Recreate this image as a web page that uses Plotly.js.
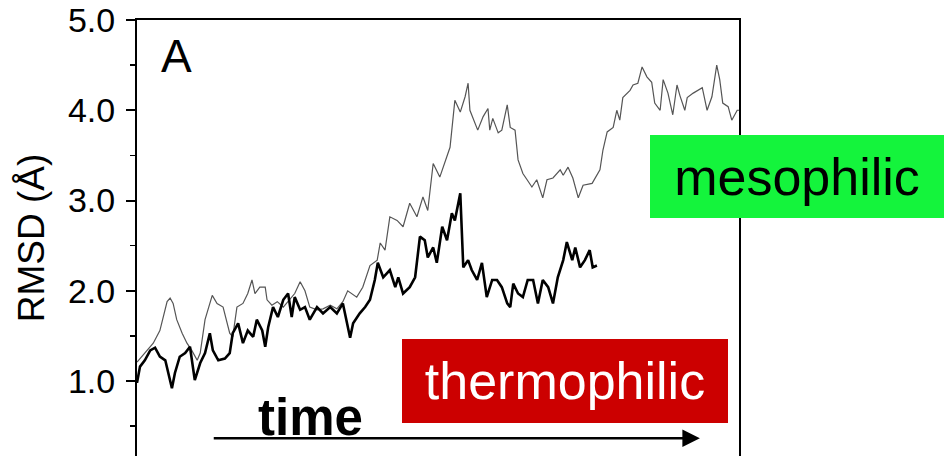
<!DOCTYPE html>
<html>
<head>
<meta charset="utf-8">
<script src="https://cdn.plot.ly/plotly-3.0.1.min.js"></script>
<style>html,body{margin:0;padding:0;background:#fff;}#chart{width:944px;height:456px;}</style>
</head>
<body>
<div id="chart"></div>
<script>
// time (arbitrary units, 0-100) and RMSD (Å)
var mesoTime = [0,1.3,2.7,3.8,5.0,5.5,6.0,6.6,7.5,8.3,9.1,10.0,10.5,11.3,12.5,13.3,14.3,15.4,15.9,16.6,17.6,18.4,19.1,19.6,20.4,21.3,21.6,22.4,23.3,24.3,25.4,26.2,27.1,27.9,28.7,29.9,30.9,32.1,33.2,34.2,35.0,36.5,37.5,38.7,39.9,40.4,41.2,42.0,43.2,44.2,45.3,46.5,47.5,48.3,49.2,50.3,52.0,52.5,52.8,53.7,54.5,55.0,55.3,56.6,57.5,58.3,58.6,59.1,60.0,60.6,61.5,62.0,62.8,63.3,64.1,64.8,65.6,66.4,67.4,68.1,69.1,70.3,70.8,71.6,72.4,73.3,74.1,75.6,76.9,77.4,78.1,79.1,79.7,80.2,80.7,81.9,82.4,83.2,83.9,84.7,85.5,86.0,86.9,87.4,88.2,89.0,89.7,90.2,91.0,91.4,92.4,93.9,94.7,95.5,96.3,96.8,97.3,98.2,98.8,99.7,100];
var mesoRMSD = [1.21,1.31,1.42,1.56,1.88,1.92,1.86,1.68,1.53,1.42,1.34,1.23,1.31,1.68,1.95,1.86,1.82,1.53,1.49,1.82,1.86,1.97,2.12,1.97,2.04,2.04,1.90,1.84,1.88,1.82,1.90,1.97,2.10,2.00,1.82,1.79,1.80,1.84,1.80,1.88,2.00,1.93,2.04,2.28,2.34,2.53,2.45,2.82,2.78,2.71,2.97,2.82,3.04,2.89,3.41,3.26,3.59,3.89,4.11,3.98,4.15,4.30,4.00,3.78,3.93,4.02,3.78,3.91,3.75,3.78,4.06,3.81,3.78,3.45,3.30,3.23,3.15,3.23,3.03,3.23,3.25,3.34,3.28,3.37,3.25,3.03,3.17,3.19,3.34,3.56,3.76,3.81,4.00,3.89,4.14,4.22,4.28,4.30,4.48,4.37,4.31,4.08,4.00,4.34,4.19,3.95,4.28,4.16,4.00,4.14,4.19,4.25,4.00,4.15,4.50,4.34,4.08,4.04,3.89,4.00,4.00];
var thermoTime = [0,0.5,1.3,2.2,3.0,3.8,4.7,5.1,5.8,6.3,7.1,8.0,8.8,9.6,10.5,11.3,12.1,12.6,13.5,14.6,15.4,15.9,16.8,17.6,18.4,19.3,19.9,20.8,21.3,21.8,22.6,23.4,24.3,25.1,25.7,26.2,27.1,27.9,28.7,29.9,30.9,32.1,33.2,34.2,35.4,35.9,37.0,37.9,38.7,39.5,40.0,40.9,42.0,42.9,43.4,44.2,45.3,46.2,47.0,47.8,48.3,49.2,49.8,50.7,51.5,52.3,52.8,53.7,54.2,55.0,55.6,56.5,57.3,58.1,59.0,59.8,60.6,61.5,62.0,62.5,63.3,64.1,64.9,65.8,66.6,67.4,68.3,69.1,69.9,70.8,71.4,72.3,72.8,73.6,74.4,75.2,75.7,76.4];
var thermoRMSD = [0.98,1.16,1.23,1.34,1.37,1.27,1.23,1.12,0.92,1.09,1.27,1.31,1.38,1.01,1.20,1.31,1.53,1.34,1.23,1.25,1.31,1.53,1.64,1.42,1.56,1.49,1.68,1.56,1.38,1.60,1.82,1.71,1.90,1.97,1.71,1.93,1.79,1.82,1.68,1.82,1.75,1.82,1.75,1.86,1.48,1.64,1.75,1.82,1.90,2.12,2.31,2.15,2.23,2.04,2.15,1.97,2.04,2.15,2.60,2.56,2.37,2.48,2.31,2.71,2.56,2.86,2.78,3.08,2.26,2.34,2.23,2.12,2.31,1.93,2.12,2.12,2.04,1.86,1.82,2.08,1.97,1.93,2.12,2.12,1.86,2.12,2.04,1.86,2.15,2.34,2.54,2.34,2.48,2.26,2.34,2.45,2.26,2.28];
var yTickVals = [1, 2, 3, 4, 5];
var yTickText = ["1.0", "2.0", "3.0", "4.0", "5.0"];

var font = "Liberation Sans, Arial, Helvetica, sans-serif";

var traces = [
  {x: mesoTime, y: mesoRMSD, type: "scatter", mode: "lines", name: "mesophilic",
   line: {color: "#555555", width: 1.2}, hoverinfo: "skip"},
  {x: thermoTime, y: thermoRMSD, type: "scatter", mode: "lines", name: "thermophilic",
   line: {color: "#000000", width: 2.6}, hoverinfo: "skip"}
];

var layout = {
  width: 944, height: 456,
  margin: {l: 137, r: 205, t: 20, b: 0},
  paper_bgcolor: "#ffffff", plot_bgcolor: "#ffffff",
  showlegend: false,
  font: {family: font, color: "#000"},
  xaxis: {range: [0, 100], side: "top", showline: true, linecolor: "#000", linewidth: 2,
          showticklabels: false, ticks: "", showgrid: false, zeroline: false, fixedrange: true},
  yaxis: {range: [0.17, 5.0], tickvals: yTickVals, ticktext: yTickText,
          ticks: "outside", ticklen: 9, tickwidth: 2, tickcolor: "#000",
          showline: true, mirror: true, linecolor: "#000", linewidth: 2,
          showgrid: false, zeroline: false,
          tickfont: {family: font, size: 34, color: "#000"},
          ticklabelstandoff: 4,
          minor: {dtick: 0.5, tick0: 0.5, ticks: "outside", ticklen: 5, tickwidth: 1.5, tickcolor: "#000", showgrid: false},
          title: {text: "RMSD (Å)", font: {family: font, size: 37, color: "#000"}, standoff: 12},
          automargin: false, fixedrange: true},
  annotations: [
    {x: 6.5, y: 4.6, xref: "x", yref: "y", text: "A", showarrow: false,
     font: {family: font, size: 46, color: "#000"}},
    {x: 93.5, y: 0.368, ax: 12.5, ay: 0.368, xref: "x", yref: "y", axref: "x", ayref: "y",
     text: "", showarrow: true, arrowhead: 2, arrowsize: 1.4, arrowwidth: 2.5, arrowcolor: "#000"},
    {x: 28.8, y: 0.6, xref: "x", yref: "y", text: "<b>time</b>", showarrow: false,
     font: {family: font, size: 51, color: "#000"}},
    {x: 71.1, y: 1.0, xref: "x", yref: "y", text: "thermophilic", showarrow: false,
     xanchor: "center", yanchor: "middle",
     bgcolor: "#cc0000", width: 326, height: 84, borderpad: 0, borderwidth: 0,
     font: {family: font, size: 52, color: "#ffffff"}},
    {x: 1.0963, y: 0.641, xref: "paper", yref: "paper", text: "mesophilic", showarrow: false,
     xanchor: "center", yanchor: "middle",
     bgcolor: "#14f43c", width: 294, height: 83, borderpad: 0, borderwidth: 0,
     font: {family: font, size: 52, color: "#000000"}}
  ]
};

Plotly.newPlot("chart", traces, layout, {staticPlot: true, displayModeBar: false});
</script>
</body>
</html>
